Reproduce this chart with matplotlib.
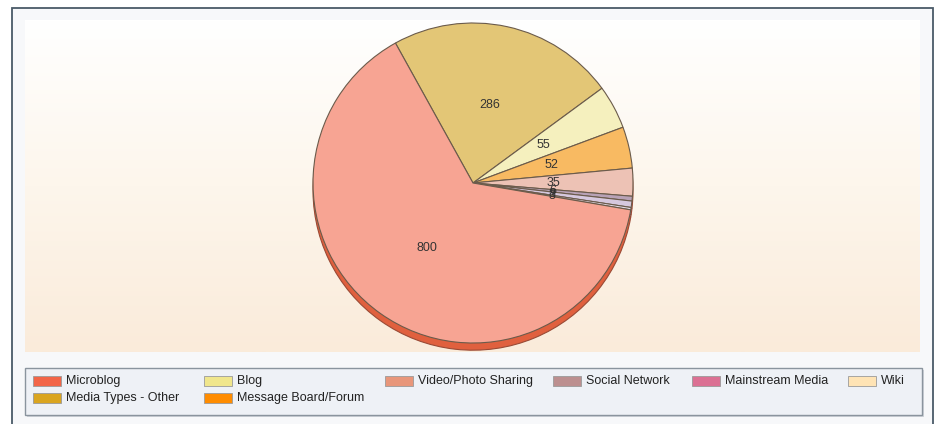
import numpy as np
import matplotlib
matplotlib.use("Agg")
import matplotlib.pyplot as plt
from matplotlib.patches import Rectangle

plt.rcParams['font.family'] = ['Liberation Sans', 'DejaVu Sans']

# slices, in drawing order (clockwise from the top)
slice_names = ["Media Types - Other", "Blog", "Message Board/Forum", "Video/Photo Sharing",
               "Social Network", "Mainstream Media", "Wiki", "Microblog"]
slice_values = [286, 55, 52, 35, 6, 8, 3, 800]
slice_colors = ["#E3C676", "#F5F0BE", "#F8BA62", "#EDC2B5",
                "#B8A2B6", "#D6C8DE", "#E2DAE6", "#F7A493"]
shadow_colors = ["#B89A40", "#C8C080", "#D08830", "#C08E80",
                 "#A08890", "#906890", "#A09AA8", "#E0603E"]

# legend, row by row
legend_names = ["Microblog", "Blog", "Video/Photo Sharing", "Social Network", "Mainstream Media", "Wiki",
                "Media Types - Other", "Message Board/Forum"]
legend_colors = ["#F26548", "#F0E68C", "#E8967A", "#BC8F8F", "#DB7093", "#FFE4B5",
                 "#DAA520", "#FF8C00"]

W, H = 937, 424
fig = plt.figure(figsize=(W / 100, H / 100), dpi=100)
fig.patch.set_facecolor("white")

# background / frame axes in pixel coordinates
bg = fig.add_axes([0, 0, 1, 1])
bg.set_xlim(0, W)
bg.set_ylim(H, 0)
bg.axis("off")

bg.add_patch(Rectangle((12, 8), 921, 430, facecolor="#F7F8FA", edgecolor="#4A5A68", lw=1.3))
grad = np.linspace(0, 1, 256).reshape(-1, 1)
cmap = matplotlib.colors.LinearSegmentedColormap.from_list("bgfade", ["#FFFFFF", "#FDF6EC", "#FAEBDA"])
bg.imshow(grad, extent=(25, 920, 352, 20), cmap=cmap, aspect="auto", zorder=1)

# legend box
bg.add_patch(Rectangle((27, 370), 897, 47, facecolor="#D0D4DA", edgecolor="none", zorder=2))
bg.add_patch(Rectangle((25, 368), 897, 47, facecolor="#EEF1F6", edgecolor="#8A949E", lw=1, zorder=3))
col_x = [33, 204, 385, 553, 692, 848]
row_y = [381, 398]
for i, (name, col) in enumerate(zip(legend_names, legend_colors)):
    r, c = divmod(i, 6)
    x, y = col_x[c], row_y[r]
    bg.add_patch(Rectangle((x, y - 5), 28, 10, facecolor=col, edgecolor="#9A9A9A", lw=0.6, zorder=4))
    bg.text(x + 33, y, name, fontsize=9, color="#222222", va="center", ha="left", zorder=5)

# pie
cx, cy, rad = 473, 183, 160
ax = fig.add_axes([(cx - rad) / W, (H - cy - rad * 1.06) / H, 2 * rad / W, 2.06 * rad / H])

ax.pie(slice_values, colors=shadow_colors, startangle=119, counterclock=False,
       center=(0, -0.045), radius=1,
       wedgeprops=dict(edgecolor="#9A4A35", linewidth=0.8))
ax.pie(slice_values, colors=slice_colors, startangle=119, counterclock=False,
       labels=[str(v) for v in slice_values], labeldistance=0.5,
       textprops=dict(fontsize=9, color="#333333", ha="center", va="center"),
       wedgeprops=dict(edgecolor="#6B5B4B", linewidth=0.8))
ax.set_aspect("auto")
ax.set_xlim(-1, 1)
ax.set_ylim(-1.06, 1)
ax.axis("off")

fig.savefig("out.png", dpi=100)
